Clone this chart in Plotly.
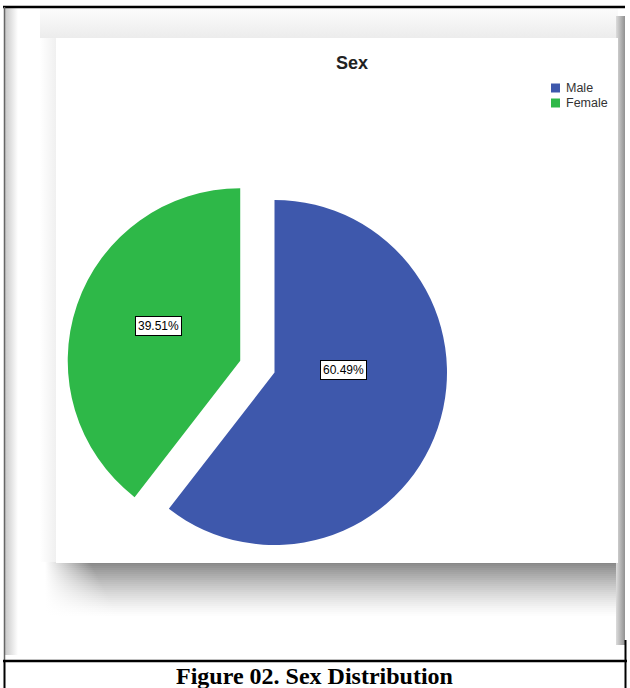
import plotly.graph_objects as go

# Chart data
categories = ["Male", "Female"]
percentages = [60.49, 39.51]
colors = ["#3E58AC", "#2EB848"]
pulls = [0.0, 0.21]
chart_title = "Sex"
caption = "Figure 02. Sex Distribution"

W, H = 630, 688
SANS = "Liberation Sans, Arial, sans-serif"
SERIF = "Liberation Serif, Times New Roman, serif"

fig = go.Figure()


def grad_rect(x0, x1, y0, y1, orient, scale, start, stop):
    """Filled rectangle (page pixel coords) with a linear gradient."""
    fig.add_trace(go.Scatter(
        x=[x0, x1, x1, x0, x0], y=[y0, y0, y1, y1, y0],
        mode="lines", line=dict(width=0), fill="toself",
        fillgradient=dict(type=orient, colorscale=scale, start=start, stop=stop),
        hoverinfo="skip", showlegend=False))


def solid_rect(x0, x1, y0, y1, color):
    fig.add_trace(go.Scatter(
        x=[x0, x1, x1, x0, x0], y=[y0, y0, y1, y1, y0],
        mode="lines", line=dict(width=0), fill="toself",
        fillcolor=color, hoverinfo="skip", showlegend=False))


# Soft shading around the chart panel
grad_rect(5, 18, 8, 655, "horizontal",
          [[0, "rgb(200,200,200)"], [1, "rgb(255,255,255)"]], 5, 18)
grad_rect(40, 618, 8, 38, "vertical",
          [[0, "rgb(252,252,252)"], [1, "rgb(236,236,236)"]], 8, 38)
grad_rect(40, 56, 38, 562, "horizontal",
          [[0, "rgb(255,255,255)"], [1, "rgb(240,240,240)"]], 40, 56)

# Drop shadow under the panel: thin rows, each fading in from the left
top, bottom, step = 562, 618, 2
n_rows = (bottom - top) // step
for k in range(n_rows):
    t = (k + 0.5) / n_rows
    g = int(round(255 - 122 * (1 - t) ** 1.4))
    gray = f"rgb({g},{g},{g})"
    x_full = 90 + 30 * t
    grad_rect(45, 620, top + k * step, top + (k + 1) * step + 0.6, "horizontal",
              [[0, "rgb(255,255,255)"], [(x_full - 45) / (620 - 45), gray], [1, gray]],
              45, 620)

grad_rect(616, 625, 16, 645, "horizontal",
          [[0, "rgb(220,220,220)"], [1, "rgb(145,145,145)"]], 616, 625)
# White chart panel
solid_rect(56, 618, 38, 563, "white")

# Pie: Male first, clockwise from 12 o'clock, Female slice pulled out
cx, cy, r = 274.5, 372.5, 172.5
half = r * (1 + max(pulls))
fig.add_trace(go.Pie(
    labels=categories, values=percentages, sort=False,
    direction="clockwise", rotation=0, pull=pulls,
    marker=dict(colors=colors, line=dict(width=0)),
    textinfo="none", hoverinfo="label+percent", showlegend=False,
    domain=dict(x=[(cx - half) / W, (cx + half) / W],
                y=[(H - cy - half) / H, (H - cy + half) / H])))

annotations = []
# Percentage labels in boxed white tags
label_pos = {"Male": (343, 370), "Female": (158, 326)}
for name, val in zip(categories, percentages):
    px, py = label_pos[name]
    annotations.append(dict(
        x=px, y=py, xref="x", yref="y", text=f"{val:.2f}%", showarrow=False,
        font=dict(family=SANS, size=12, color="black"),
        bgcolor="white", bordercolor="black", borderwidth=1, borderpad=2))

# Title
annotations.append(dict(x=352, y=63, xref="x", yref="y", text=f"<b>{chart_title}</b>",
                        showarrow=False, font=dict(family=SANS, size=18, color="#222")))

# Legend
shapes = []
for i, (name, col) in enumerate(zip(categories, colors)):
    ly = 88 + i * 15
    shapes.append(dict(type="rect", xref="x", yref="y", x0=551, x1=560,
                       y0=ly - 4.5, y1=ly + 4.5, fillcolor=col, line=dict(width=0)))
    annotations.append(dict(x=564, y=ly, xref="x", yref="y", text=name,
                            xanchor="left", showarrow=False,
                            font=dict(family=SANS, size=12.5, color="#333")))

# Caption
annotations.append(dict(x=314, y=676, xref="x", yref="y", text=f"<b>{caption}</b>",
                        showarrow=False, font=dict(family=SERIF, size=24, color="black")))


# Table frame lines
def line(x0, y0, x1, y1, color, width):
    shapes.append(dict(type="line", xref="x", yref="y", x0=x0, y0=y0, x1=x1, y1=y1,
                       line=dict(color=color, width=width), layer="above"))


line(3, 7, 625, 7, "black", 2.5)
line(4.5, 7, 4.5, 660, "#666", 1.5)
line(4.5, 660, 4.5, 688, "black", 2)
line(625.5, 640, 625.5, 688, "black", 2)
line(3, 661, 627, 661, "black", 2.5)

fig.update_layout(
    width=W, height=H, margin=dict(l=0, r=0, t=0, b=0),
    paper_bgcolor="white", plot_bgcolor="white",
    xaxis=dict(range=[0, W], visible=False, fixedrange=True, domain=[0, 1]),
    yaxis=dict(range=[H, 0], visible=False, fixedrange=True, domain=[0, 1]),
    shapes=shapes, annotations=annotations, showlegend=False,
)

fig.write_html("out.html")
